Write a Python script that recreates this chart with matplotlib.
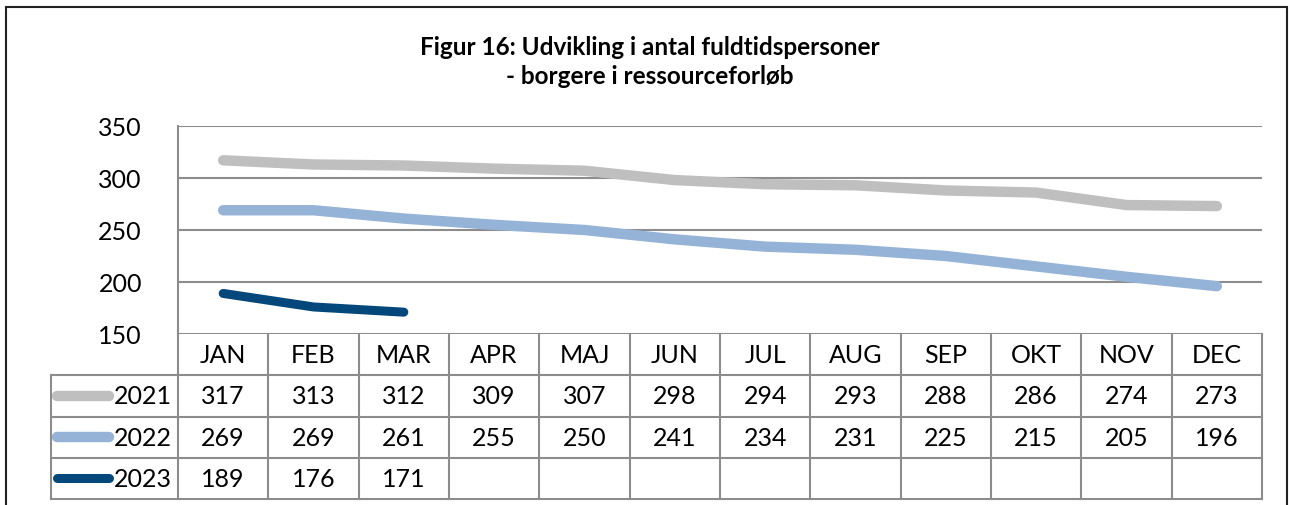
import numpy as np
import matplotlib
matplotlib.use("Agg")
import matplotlib.pyplot as plt
from matplotlib.patches import Rectangle

plt.rcParams['font.family'] = ['Lato', 'DejaVu Sans']

months = ["JAN", "FEB", "MAR", "APR", "MAJ", "JUN", "JUL", "AUG", "SEP", "OKT", "NOV", "DEC"]
years = ["2021", "2022", "2023"]
v2021 = [317, 313, 312, 309, 307, 298, 294, 293, 288, 286, 274, 273]
v2022 = [269, 269, 261, 255, 250, 241, 234, 231, 225, 215, 205, 196]
v2023 = [189, 176, 171]
series = [v2021, v2022, v2023]
colors = ["#BFBFBF", "#95B3D7", "#04477A"]
widths = [7.5, 7.5, 6.5]

title = "Figur 16: Udvikling i antal fuldtidspersoner\n- borgere i ressourceforløb"

W, H = 1290, 506
fig = plt.figure(figsize=(W / 100, H / 100), dpi=100)

gridc = "#8C8C8C"
fsz = 18

# outer frame (bottom edge lies outside the picture)
fig.patches.append(Rectangle((6 / W, -10 / H), (1287 - 6) / W, (H + 2) / H,
                             transform=fig.transFigure, fill=False,
                             edgecolor="#222222", lw=1.5))

fig.text(650 / W, 1 - 62 / H, title, ha="center", va="center",
         fontsize=17.5, fontweight="bold", linespacing=1.3)

# plot area
x0, x1, ytop, ybot = 178, 1262, 127, 335
ax = fig.add_axes([x0 / W, 1 - ybot / H, (x1 - x0) / W, (ybot - ytop) / H])
x = np.arange(len(months))
for vals, c, lw in zip(series, colors, widths):
    ax.plot(x[:len(vals)], vals, color=c, lw=lw, solid_capstyle="round",
            solid_joinstyle="round")
ax.set_xlim(-0.5, 11.5)
ax.set_ylim(150, 350)
ax.set_yticks([150, 200, 250, 300, 350])
ax.set_xticks([])
ax.tick_params(axis="y", length=0, pad=26, labelsize=fsz)
ax.grid(axis="y", color=gridc, lw=1.5)
for s in ["top", "right", "bottom"]:
    ax.spines[s].set_visible(False)
ax.spines["left"].set_color(gridc)
ax.spines["left"].set_linewidth(1.5)
ax.set_axisbelow(True)

# data table
tl, tb = 51, 500
colw = (x1 - x0) / 12
tax = fig.add_axes([tl / W, 1 - tb / H, (x1 - tl) / W, (tb - ybot) / H])
left = -0.5 - (x0 - tl) / colw
tax.set_xlim(left, 11.5)
tax.set_ylim(0, 4)
tax.axis("off")

for k in range(13):
    tax.plot([k - 0.5, k - 0.5], [0, 4], color=gridc, lw=1.5, clip_on=False)
tax.plot([left, left], [0, 3], color=gridc, lw=1.5, clip_on=False)
for r in range(4):
    tax.plot([left, 11.5], [r, r], color=gridc, lw=1.5, clip_on=False)

for i, m in enumerate(months):
    tax.text(i, 3.5, m, ha="center", va="center", fontsize=fsz)

for j, (yr, vals, c, lw) in enumerate(zip(years, series, colors, widths)):
    yc = 2.5 - j
    tax.plot([left + 0.07, left + 0.64], [yc, yc], color=c, lw=lw,
             solid_capstyle="round", clip_on=False)
    tax.text(-0.57, yc, yr, ha="right", va="center", fontsize=fsz)
    for i, v in enumerate(vals):
        tax.text(i, yc, str(v), ha="center", va="center", fontsize=fsz)

fig.savefig("out.png", dpi=100)
